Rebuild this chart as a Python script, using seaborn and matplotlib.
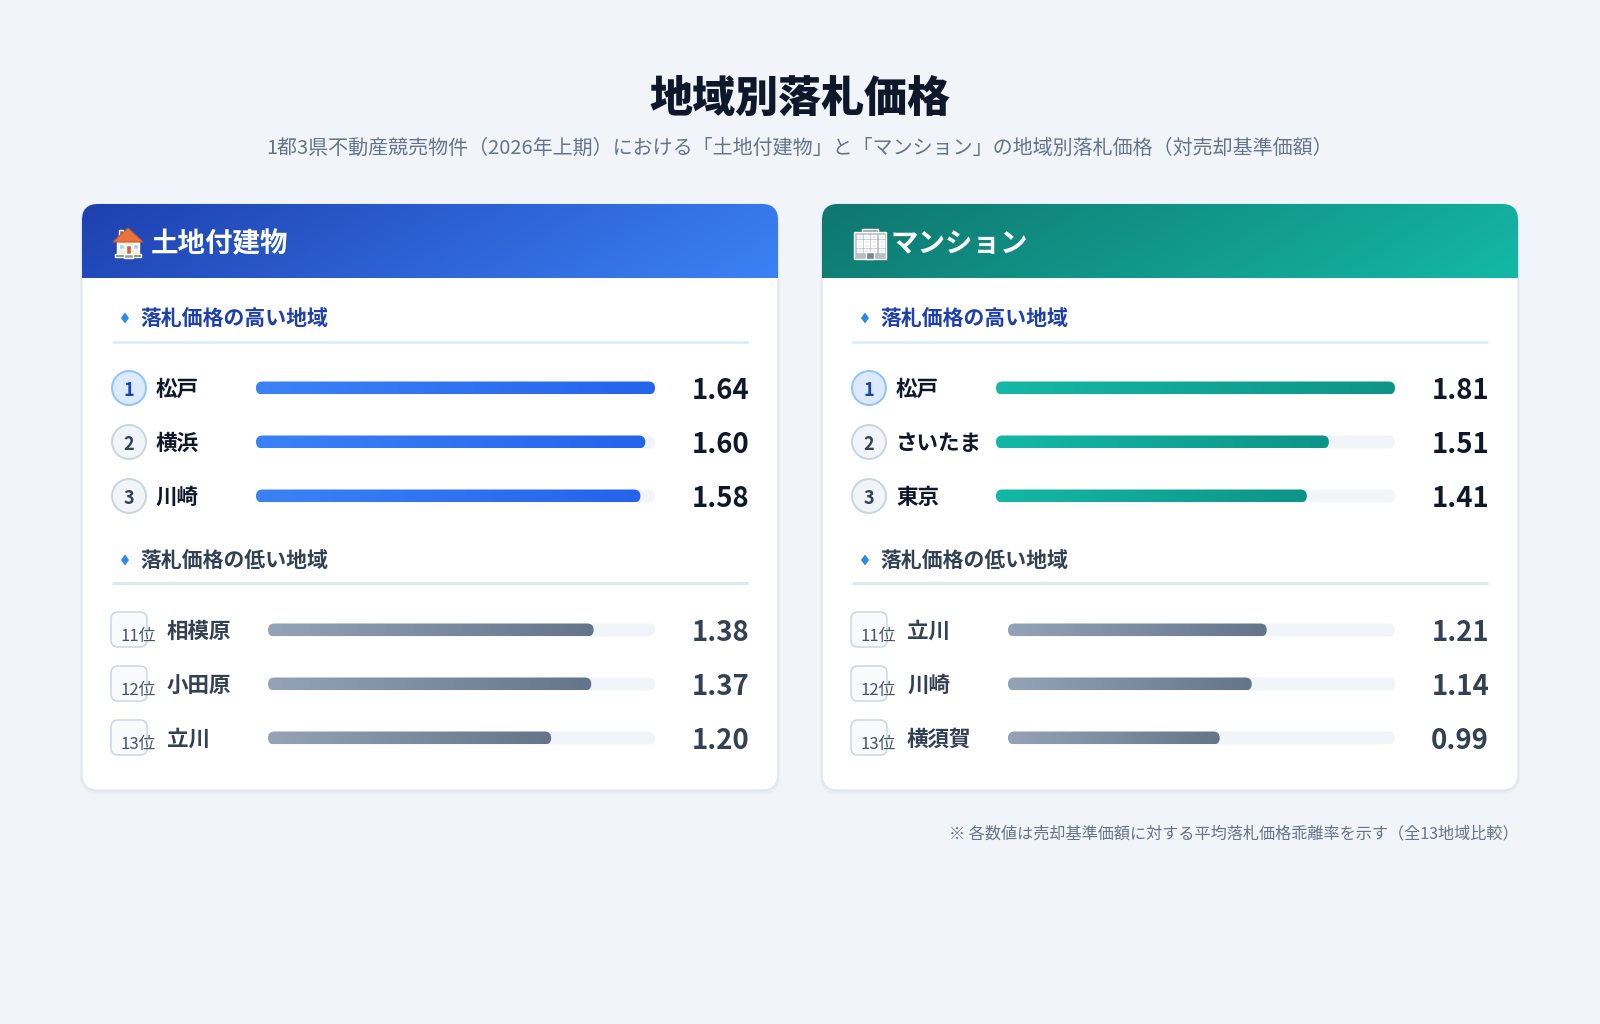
import numpy as np
import matplotlib.pyplot as plt
import seaborn as sns
from matplotlib.patches import FancyBboxPatch, Circle, Polygon, Rectangle
from matplotlib.colors import LinearSegmentedColormap, to_rgb

# ---- data ----
title = '地域別落札価格'
subtitle = '1都3県不動産競売物件（2026年上期）における「土地付建物」と「マンション」の地域別落札価格（対売却基準価額）'
footnote = '※ 各数値は売却基準価額に対する平均落札価格乖離率を示す（全13地域比較）'

card_titles = ['土地付建物', 'マンション']
section_titles = ['落札価格の高い地域', '落札価格の低い地域']
high_ranks = ['1', '2', '3']
low_ranks = ['11位', '12位', '13位']

land_high_names = ['松戸', '横浜', '川崎']
land_high_vals = [1.64, 1.60, 1.58]
land_low_names = ['相模原', '小田原', '立川']
land_low_vals = [1.38, 1.37, 1.20]

mansion_high_names = ['松戸', 'さいたま', '東京']
mansion_high_vals = [1.81, 1.51, 1.41]
mansion_low_names = ['立川', '川崎', '横須賀']
mansion_low_vals = [1.21, 1.14, 0.99]

# ---- style ----
sns.set_theme(style='white')
plt.rcParams['font.family'] = ['Noto Sans CJK JP', 'DejaVu Sans']

W, H = 1600, 1024
BG = '#f1f5f9'
PT = 72 / 100  # px -> pt

fig = plt.figure(figsize=(16, 10.24), dpi=100)
fig.patch.set_facecolor(BG)
bg = fig.add_axes([0, 0, 1, 1])
bg.set_xlim(0, W)
bg.set_ylim(H, 0)
bg.axis('off')

bg.text(800, 99, title, ha='center', va='center', fontsize=31, fontweight='black', color='#0f172a')
bg.text(800, 148, subtitle, ha='center', va='center', fontsize=14.4, color='#64748b')
bg.text(1519, 834, footnote, ha='right', va='center', fontsize=11.6, color='#64748b')

CARD_X = [82, 822]
CARD_W = 696
CARD_TOP, CARD_BOT = 204, 790
HEAD_H = 74
ROW_HIGH = [388, 442, 496]
ROW_LOW = [630, 684, 738]
STEP = 54

header_cols = [('#1e40af', '#3b82f6'), ('#0f766e', '#14b8a6')]
bar_cols = [('#3b82f6', '#2563eb'), ('#14b8a6', '#0d9488')]
low_cols = ('#94a3b8', '#64748b')


def grad_cmap(c1, c2):
    return LinearSegmentedColormap.from_list('g', [c1, c2])


def draw_bars(x_left, width, y_first, names, vals, vmax, cols):
    top = y_first - STEP / 2
    height = STEP * 3
    ax = fig.add_axes([x_left / W, 1 - (top + height) / H, width / W, height / H])
    sns.barplot(x=vals, y=names, order=names, orient='h', color=cols[0],
                width=0.24, errorbar=None, saturation=1, ax=ax)
    ax.set_xlim(0, vmax)
    ax.set_ylim(2.5, -0.5)
    ax.axis('off')
    ax.patch.set_alpha(0)
    xpx = vmax / width
    ypx = 3 / height
    asp = ypx / xpx
    style = f'round,pad=0,rounding_size={6.4 * xpx}'
    grad = np.linspace(0, 1, 256).reshape(1, -1)
    cmap = grad_cmap(*cols)
    for p in list(ax.patches):
        x0, y0, bw, bh = p.get_x(), p.get_y(), p.get_width(), p.get_height()
        p.set_visible(False)
        track = FancyBboxPatch((0, y0), vmax, bh, boxstyle=style, mutation_aspect=asp,
                               fc='#f1f5f9', ec='none', zorder=1)
        ax.add_patch(track)
        bar = FancyBboxPatch((x0, y0), bw, bh, boxstyle=style, mutation_aspect=asp,
                             fc='none', ec='none', zorder=2)
        ax.add_patch(bar)
        im = ax.imshow(grad, cmap=cmap, extent=[x0, x0 + bw, y0 + bh, y0],
                       aspect='auto', zorder=2, interpolation='bilinear')
        im.set_clip_path(bar)
    ax.set_xlim(0, vmax)
    ax.set_ylim(2.5, -0.5)
    return ax


def diamond(x, y):
    bg.add_patch(Polygon([(x, y - 5.5), (x + 4, y), (x, y + 5.5), (x - 4, y)],
                         closed=True, fc='#2b8ae8', ec='none', zorder=3))


def house_icon(ox, oy):
    bg.add_patch(Rectangle((ox + 6, oy + 3), 4, 8, fc='#b5553a', zorder=4))
    bg.add_patch(Polygon([(ox, oy + 15), (ox + 15, oy + 1), (ox + 30, oy + 15)], closed=True,
                         fc='#e8743b', ec='#c95a2a', lw=0.8, zorder=5))
    bg.add_patch(Rectangle((ox + 4, oy + 14), 22, 14, fc='#f7ecd9', zorder=4))
    bg.add_patch(Rectangle((ox + 13, oy + 18), 5, 10, fc='#c8623a', zorder=5))
    bg.add_patch(Rectangle((ox + 6, oy + 17), 5, 5, fc='#9fd3e8', zorder=5))
    bg.add_patch(Rectangle((ox + 20, oy + 17), 5, 5, fc='#9fd3e8', zorder=5))
    bg.add_patch(Rectangle((ox + 2, oy + 27), 26, 3, fc='#6b8e3a', zorder=5))
    bg.add_patch(Rectangle((ox + 11, oy + 27), 9, 4, fc='#9aa1aa', zorder=6))


def building_icon(ox, oy):
    bg.add_patch(Rectangle((ox + 9, oy), 16, 4, fc='#9aa1aa', zorder=4))
    bg.add_patch(Rectangle((ox + 1, oy + 3), 32, 27, fc='#b8bec6', zorder=4))
    for r in range(4):
        for c in range(4):
            bg.add_patch(Rectangle((ox + 4 + c * 7.2, oy + 6 + r * 4.5), 5, 3, fc='#e6eef3', zorder=5))
    bg.add_patch(Rectangle((ox + 13, oy + 23), 8, 7, fc='#7b8794', zorder=5))


cards = [
    (land_high_names, land_high_vals, land_low_names, land_low_vals),
    (mansion_high_names, mansion_high_vals, mansion_low_names, mansion_low_vals),
]

for ci, cx in enumerate(CARD_X):
    hn, hv, ln, lv = cards[ci]
    vmax = max(hv)

    # card + shadow
    for k, a in [(4, 0.025), (2, 0.035)]:
        bg.add_patch(FancyBboxPatch((cx - k / 2, CARD_TOP + k / 2), CARD_W + k, CARD_BOT - CARD_TOP + k / 2,
                                    boxstyle='round,pad=0,rounding_size=18', fc='#0f172a', alpha=a,
                                    ec='none', zorder=0.5))
    card = FancyBboxPatch((cx, CARD_TOP), CARD_W, CARD_BOT - CARD_TOP,
                          boxstyle='round,pad=0,rounding_size=16', fc='white', ec='#e2e8f0', lw=1, zorder=1)
    bg.add_patch(card)

    # header gradient
    gx = np.linspace(0, 1, 300)
    gy = np.linspace(0, 1, 40)
    t = np.clip(0.85 * gx[None, :] + 0.15 * gy[:, None], 0, 1)
    c1, c2 = np.array(to_rgb(header_cols[ci][0])), np.array(to_rgb(header_cols[ci][1]))
    img = c1[None, None, :] * (1 - t[..., None]) + c2[None, None, :] * t[..., None]
    him = bg.imshow(img, extent=[cx, cx + CARD_W, CARD_TOP + HEAD_H, CARD_TOP], aspect='auto',
                    zorder=2, interpolation='bilinear')
    him.set_clip_path(card)

    if ci == 0:
        house_icon(cx + 31, 227)
    else:
        building_icon(cx + 31, 229)
    bg.text(cx + 69, 244, card_titles[ci], ha='left', va='center', fontsize=19.8,
            fontweight='bold', color='white', zorder=6)

    # sections
    diamond(cx + 43, 318)
    bg.text(cx + 58, 319, section_titles[0], ha='left', va='center', fontsize=15,
            fontweight='bold', color='#1e40af', zorder=3)
    bg.plot([cx + 30, cx + 666], [342, 342], color='#dbeafe', lw=2 * PT * 1.3, zorder=3,
            solid_capstyle='butt')
    diamond(cx + 43, 560)
    bg.text(cx + 58, 561, section_titles[1], ha='left', va='center', fontsize=15,
            fontweight='bold', color='#334155', zorder=3)
    bg.plot([cx + 30, cx + 666], [583, 583], color='#e2e8f0', lw=2.5 * PT * 1.3, zorder=3,
            solid_capstyle='butt')

    # high rows
    draw_bars(cx + 174, 399, ROW_HIGH[0], hn, hv, vmax, bar_cols[ci])
    for i, y in enumerate(ROW_HIGH):
        if i == 0:
            fc, ec, tc = '#dbeafe', '#93c5fd', '#1e40af'
        else:
            fc, ec, tc = '#f1f5f9', '#cbd5e1', '#334155'
        bg.add_patch(Circle((cx + 47, y), 17, fc=fc, ec=ec, lw=2 * PT, zorder=3))
        bg.text(cx + 47, y + 3, high_ranks[i], ha='center', va='center', fontsize=13,
                fontweight='bold', color=tc, zorder=4)
        bg.text(cx + 74, y + 1, hn[i], ha='left', va='center', fontsize=15.5,
                fontweight='bold', color='#0f172a', zorder=4)
        bg.text(cx + 667, y + 3, f'{hv[i]:.2f}', ha='right', va='center', fontsize=19.8,
                fontweight='bold', color='#0f172a', zorder=4)

    # low rows
    draw_bars(cx + 186, 387, ROW_LOW[0], ln, lv, vmax, low_cols)
    for i, y in enumerate(ROW_LOW):
        bg.add_patch(FancyBboxPatch((cx + 29, y - 18), 36, 35, boxstyle='round,pad=0,rounding_size=7',
                                    fc='#f8fafc', ec='#cbd5e1', lw=1.5 * PT, zorder=3))
        bg.text(cx + 39, y + 7, low_ranks[i], ha='left', va='center', fontsize=12,
                color='#475569', zorder=4)
        bg.text(cx + 85, y + 1, ln[i], ha='left', va='center', fontsize=15.5,
                fontweight='bold', color='#334155', zorder=4)
        bg.text(cx + 667, y + 3, f'{lv[i]:.2f}', ha='right', va='center', fontsize=19.8,
                fontweight='bold', color='#334155', zorder=4)

fig.savefig('out.png', dpi=100, facecolor=BG)
